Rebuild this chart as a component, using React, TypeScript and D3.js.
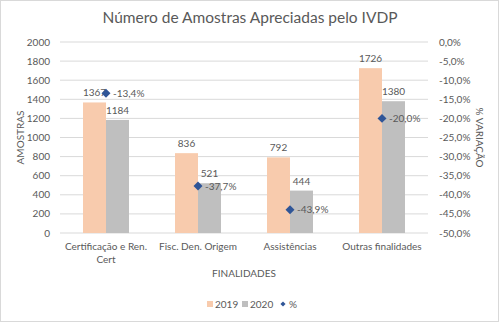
import React from "react";
import * as d3 from "d3";

const categories = [["Certificação e Ren.", "Cert"], ["Fisc. Den. Origem"], ["Assistências"], ["Outras finalidades"]];
const values2019 = [1367, 836, 792, 1726];
const values2020 = [1184, 521, 444, 1380];
const pctChange = [-13.4, -37.7, -43.9, -20.0];
const leftTicks = [0, 200, 400, 600, 800, 1000, 1200, 1400, 1600, 1800, 2000];
const rightTicks = [0, -5, -10, -15, -20, -25, -30, -35, -40, -45, -50];

const W = 500, H = 324;
const M = { l: 60, r: 428, t: 42, b: 233 };
const FONT = "Lato, 'Open Sans', sans-serif";
const TXT = "#595959";
const C19 = "#F8CBAD", C20 = "#BFBFBF", CD = "#2F5597";

export default function App() {
  const idx = categories.map((_, i) => i);
  const x = d3.scaleBand<number>().domain(idx).range([M.l, M.r]).paddingInner(0).paddingOuter(0);
  const y = d3.scaleLinear().domain([0, 2000]).range([M.b, M.t]);
  const y2 = d3.scaleLinear().domain([-50, 0]).range([M.b, M.t]);
  const bw = x.bandwidth() / 4;
  const fmtPct = (v: number) => v.toFixed(1).replace(".", ",") + "%";
  const diamond = d3.symbol(d3.symbolSquare, 40)() as string;
  const diamondSmall = d3.symbol(d3.symbolSquare, 13)() as string;
  return (
    <svg width={W} height={H} style={{ position: "absolute", left: 0, top: 0, background: "#fff" }} fontFamily={FONT}>
      <rect x={0.5} y={0.5} width={W - 2} height={H - 3} fill="#fff" stroke="#d9d9d9" />
      <text x={250} y={23} textAnchor="middle" fontSize={15.5} fill={TXT}>Número de Amostras Apreciadas pelo IVDP</text>
      {leftTicks.map((t) => (
        <g key={t}>
          <line x1={M.l} x2={M.r} y1={y(t)} y2={y(t)} stroke="#d9d9d9" strokeWidth={1} />
          <text x={50} y={y(t) + 3.5} textAnchor="end" fontSize={10} fill={TXT}>{t}</text>
        </g>
      ))}
      {rightTicks.map((t) => (
        <text key={t} x={439} y={y2(t) + 3.5} textAnchor="start" fontSize={10} fill={TXT}>{fmtPct(t)}</text>
      ))}
      {idx.map((i) => {
        const cx = (x(i) as number) + x.bandwidth() / 2;
        return (
          <g key={i}>
            <rect x={cx - bw} y={y(values2019[i])} width={bw} height={M.b - y(values2019[i])} fill={C19} />
            <rect x={cx} y={y(values2020[i])} width={bw} height={M.b - y(values2020[i])} fill={C20} />
            <text x={cx - bw / 2} y={y(values2019[i]) - 6} textAnchor="middle" fontSize={10} fill={TXT}>{values2019[i]}</text>
            <text x={cx + bw / 2} y={y(values2020[i]) - 6} textAnchor="middle" fontSize={10} fill={TXT}>{values2020[i]}</text>
            <path d={diamond} transform={`translate(${cx},${y2(pctChange[i])}) rotate(45)`} fill={CD} />
            <text x={cx + 7} y={y2(pctChange[i]) + 3.5} fontSize={10} fill={TXT}>{fmtPct(pctChange[i])}</text>
            {categories[i].map((line, j) => (
              <text key={j} x={cx} y={250 + j * 13} textAnchor="middle" fontSize={10} fill={TXT}>{line}</text>
            ))}
          </g>
        );
      })}
      <text transform={`translate(24,${(M.t + M.b) / 2}) rotate(-90)`} textAnchor="middle" fontSize={10} fill={TXT}>AMOSTRAS</text>
      <text transform={`translate(476,${(M.t + M.b) / 2}) rotate(90)`} textAnchor="middle" fontSize={10} fill={TXT}>% VARIAÇÃO</text>
      <text x={244} y={277} textAnchor="middle" fontSize={10} fill={TXT}>FINALIDADES</text>
      <g fontSize={10} fill={TXT}>
        <rect x={207} y={301} width={6} height={6} fill={C19} />
        <text x={215} y={308}>2019</text>
        <rect x={242} y={301} width={6} height={6} fill={C20} />
        <text x={250} y={308}>2020</text>
        <path d={diamondSmall} transform="translate(283,304) rotate(45)" fill={CD} />
        <text x={289} y={308}>%</text>
      </g>
    </svg>
  );
}
